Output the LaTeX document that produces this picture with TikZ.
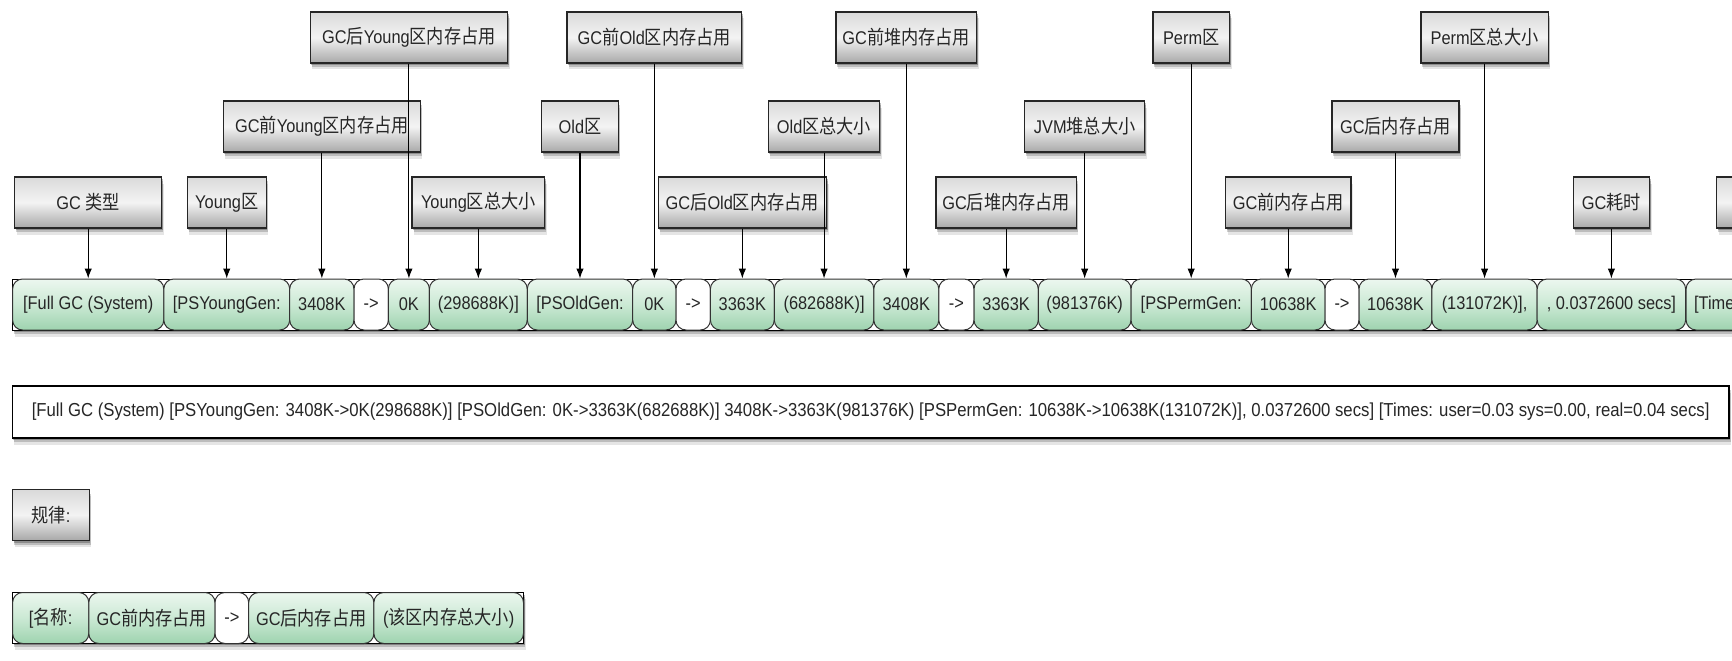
\documentclass[tikz,border=0pt]{standalone}
\usepackage{fontspec}
\setmainfont{Liberation Sans}[FakeStretch=0.89]
\newfontfamily\cjk{Noto Sans CJK SC}[FakeStretch=0.89,Scale=1.05]
\newcommand\zh[1]{{\cjk #1}}
\usetikzlibrary{shadows,arrows.meta}
\definecolor{gtop}{RGB}{236,247,239}
\definecolor{gmid}{RGB}{203,233,212}
\definecolor{gbot}{RGB}{158,211,175}
\definecolor{ltop}{RGB}{218,218,218}
\definecolor{lmid}{RGB}{243,243,243}
\definecolor{lbot}{RGB}{168,168,168}
\tikzset{
  softshadow/.style={
    general shadow={shadow xshift=1pt,shadow yshift=-2pt,fill=black,opacity=0.25},
    general shadow={shadow xshift=1.5pt,shadow yshift=-4pt,fill=black,opacity=0.18},
    general shadow={shadow xshift=2pt,shadow yshift=-6.5pt,fill=black,opacity=0.10}},
  lab/.style={draw=black!85, line width=1.3pt, top color=ltop, bottom color=lbot,
    middle color=lmid, minimum height=51pt, inner sep=0pt,
    font=\fontsize{18.4}{20}\selectfont, text=black!85, softshadow},
  cellbase/.style={draw=black!80, line width=1pt, rounded corners=10pt,
    minimum height=51pt, inner sep=0pt, font=\fontsize{18.4}{20}\selectfont, text=black!85},
  cellg/.style={cellbase, top color=gtop, bottom color=gbot, middle color=gmid},
  cellw/.style={cellbase, fill=white},
  rowframe/.style={draw=black, line width=1pt, fill=white, softshadow},
  logbox/.style={draw=black, line width=1.2pt, fill=white, inner sep=0pt,
    font=\fontsize{18.8}{20}\selectfont, text=black!85, softshadow},
  arr/.style={-{Latex[length=10pt,width=7.5pt]}, line width=1.1pt, black}
}
\newcommand\rc[5]{% name, x1, x2, style, text
  \pgfmathsetmacro\cw{#3-#2}%
  \pgfmathsetmacro\cx{(#2+#3)/2}%
  \node[#4, minimum width=\cw pt] (#1) at (\cx,\rowy) {#5};}
\begin{document}
\begin{tikzpicture}[x=1pt,y=-1pt]
\useasboundingbox (0,0) rectangle (1732,661);
\clip (0,0) rectangle (1732,661);
\coordinate (tA) at (0,37.5);
\coordinate (tB) at (0,126.5);
\coordinate (tC) at (0,202.5);
% main row
\draw[rowframe] (12.6,279) rectangle (1800,330);
\def\rowy{304.5}
\rc{c1}{12.6}{163.8}{cellg}{[Full GC (System)}
\rc{c2}{163.8}{289.7}{cellg}{[PSYoungGen:}
\rc{c3}{289.7}{354}{cellg}{3408K}
\rc{c4}{354}{388.4}{cellw}{->}
\rc{c5}{388.4}{429.4}{cellg}{0K}
\rc{c6}{429.4}{527.3}{cellg}{(298688K)]}
\rc{c7}{527.3}{632.7}{cellg}{[PSOldGen:}
\rc{c8}{632.7}{676}{cellg}{0K}
\rc{c9}{676}{710.4}{cellw}{->}
\rc{c10}{710.4}{774.3}{cellg}{3363K}
\rc{c11}{774.3}{873.8}{cellg}{(682688K)]}
\rc{c12}{873.8}{938.8}{cellg}{3408K}
\rc{c13}{938.8}{974}{cellw}{->}
\rc{c14}{974}{1038.3}{cellg}{3363K}
\rc{c15}{1038.3}{1131}{cellg}{(981376K)}
\rc{c16}{1131}{1251.4}{cellg}{[PSPermGen:}
\rc{c17}{1251.4}{1325}{cellg}{10638K}
\rc{c18}{1325}{1359}{cellw}{->}
\rc{c19}{1359}{1431.9}{cellg}{10638K}
\rc{c20}{1431.9}{1537.2}{cellg}{(131072K)],}
\rc{c21}{1537.2}{1685.6}{cellg}{, 0.0372600 secs]}
\node[cellg, anchor=west, text width=200pt, align=left, inner xsep=8pt] (c22) at (1685.6,\rowy) {[Time};
% full log line
\node[logbox, minimum width=1716.7pt, minimum height=52pt] (log) at (870.7,412)
  {[Full GC (System) [PSYoungGen: 3408K->0K(298688K)] [PSOldGen: 0K->3363K(682688K)] 3408K->3363K(981376K) [PSPermGen: 10638K->10638K(131072K)], 0.0372600 secs] [Times: user=0.03 sys=0.00, real=0.04 secs]};
% rule
\node[lab, minimum width=76.6pt] (rule) at (50.9,515) {\zh{规律}:};
\draw[rowframe] (12.6,592.7) rectangle (523.5,643.3);
\def\rowy{618}
\rc{r1}{12.6}{88.8}{cellg}{[\zh{名称}:}
\rc{r2}{88.8}{215}{cellg}{GC\zh{前内存占用}}
\rc{r3}{215}{248.7}{cellw}{->}
\rc{r4}{248.7}{373.9}{cellg}{GC\zh{后内存占用}}
\rc{r5}{373.9}{523.5}{cellg}{(\zh{该区内存总大小})}
% labels
\node[lab, minimum width=147pt] (lType) at (c1 |- tC) {GC \zh{类型}};
\node[lab, minimum width=79.2pt] (lYoung) at (c2 |- tC) {Young\zh{区}};
\node[lab, minimum width=197.1pt] (lYpre) at (c3 |- tB) {GC\zh{前}Young\zh{区内存占用}};
\node[lab, minimum width=197.5pt] (lYpost) at (c5 |- tA) {GC\zh{后}Young\zh{区内存占用}};
\node[lab, minimum width=132.7pt] (lYsize) at (c6 |- tC) {Young\zh{区总大小}};
\node[lab, minimum width=76.5pt] (lOld) at (c7 |- tB) {Old\zh{区}};
\node[lab, minimum width=174.5pt] (lOpre) at (c8 |- tA) {GC\zh{前}Old\zh{区内存占用}};
\node[lab, minimum width=168.4pt] (lOpost) at (c10 |- tC) {GC\zh{后}Old\zh{区内存占用}};
\node[lab, minimum width=111.4pt] (lOsize) at (c11 |- tB) {Old\zh{区总大小}};
\node[lab, minimum width=140.8pt] (lHpre) at (c12 |- tA) {GC\zh{前堆内存占用}};
\node[lab, minimum width=140.5pt] (lHpost) at (c14 |- tC) {GC\zh{后堆内存占用}};
\node[lab, minimum width=119.8pt] (lHsize) at (c15 |- tB) {JVM\zh{堆总大小}};
\node[lab, minimum width=76.6pt] (lPerm) at (c16 |- tA) {Perm\zh{区}};
\node[lab, minimum width=125.4pt] (lPpre) at (c17 |- tC) {GC\zh{前内存占用}};
\node[lab, minimum width=127.2pt] (lPpost) at (c19 |- tB) {GC\zh{后内存占用}};
\node[lab, minimum width=127.2pt] (lPsize) at (c20 |- tA) {Perm\zh{区总大小}};
\node[lab, minimum width=76.3pt] (lTime) at (c21 |- tC) {GC\zh{耗时}};
\node[lab, minimum width=100pt] (lTimes) at (1766.5,202.5) {};
% arrows
\foreach \l/\c in {lType/c1,lYoung/c2,lYpre/c3,lYpost/c5,lYsize/c6,lOld/c7,lOpre/c8,
  lOpost/c10,lOsize/c11,lHpre/c12,lHpost/c14,lHsize/c15,lPerm/c16,lPpre/c17,
  lPpost/c19,lPsize/c20,lTime/c21}
  \draw[arr] (\l) -- (\c.north);
\end{tikzpicture}
\end{document}
